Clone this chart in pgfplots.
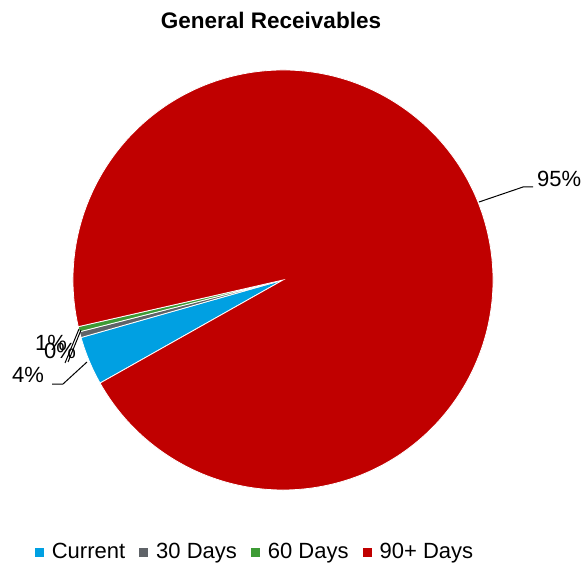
\documentclass[border=0pt]{standalone}
\usepackage{pgfplots}
\usepackage{pgfplotstable}
\pgfplotsset{compat=1.18}
\usepackage{fontspec}
\setmainfont{Liberation Sans}

\definecolor{cCur}{RGB}{0,160,226}
\definecolor{c30}{RGB}{95,99,104}
\definecolor{c60}{RGB}{61,155,53}
\definecolor{c90}{RGB}{192,0,0}

% share of receivables, in percent
\pgfplotstableread{
name value col
Current 3.75 cCur
30Days 0.45 c30
60Days 0.40 c60
90Days 95.40 c90
}\piedata

\begin{document}
\begin{tikzpicture}
\begin{axis}[
  hide axis, scale only axis,
  width=588pt, height=565pt,
  xmin=0, xmax=588, ymin=0, ymax=565,
  clip=false,
  legend columns=4,
  legend style={at={(axis cs:255,13)}, anchor=center, draw=none, fill=none,
    font=\fontsize{22}{24}\selectfont,
    /tikz/every even column/.append style={column sep=12pt}},
  legend image code/.code={\fill[#1, draw=none] (0pt,-4.5pt) rectangle (9pt,4.5pt);
    \path[draw=none, fill=none] (0pt,0pt) -- (15pt,0pt);},
]
% keep the whole frame in the bounding box
\path (axis cs:0,0) rectangle (axis cs:588,565);

\addlegendimage{fill=cCur}\addlegendentry{Current}
\addlegendimage{fill=c30}\addlegendentry{30 Days}
\addlegendimage{fill=c60}\addlegendentry{60 Days}
\addlegendimage{fill=c90}\addlegendentry{90+ Days}

\def\angstart{209.4}
\pgfplotsforeachungrouped \i in {0,1,2,3}{%
  \pgfplotstablegetelem{\i}{value}\of\piedata
  \pgfmathsetmacro{\angend}{\angstart-3.6*\pgfplotsretval}
  \pgfplotstablegetelem{\i}{col}\of\piedata
  \let\slicecol\pgfplotsretval
  \pgfmathsetmacro{\xs}{283+210*cos(\angstart)}
  \pgfmathsetmacro{\ys}{285+210*sin(\angstart)}
  \edef\doslice{\noexpand\fill[\slicecol, draw=white, line width=0.8pt]
    (axis cs:283,285) -- (axis cs:\xs,\ys)
    arc[start angle=\angstart, end angle=\angend, radius=210pt] -- cycle;}
  \doslice
  \global\let\angstart\angend
}

% title and data labels
\node[font=\fontsize{22.5}{25}\selectfont\bfseries, inner sep=0pt] at (axis cs:271,545) {General Receivables};
\draw[black, line width=1pt] (axis cs:479,363) -- (axis cs:523,378) -- (axis cs:533,378);
\node[anchor=west, inner sep=0pt, font=\fontsize{22}{24}\selectfont] at (axis cs:537,386) {95\%};
\draw[black, line width=1pt] (axis cs:52,181) -- (axis cs:63,181) -- (axis cs:87,203);
\node[inner sep=0pt, font=\fontsize{22}{24}\selectfont] at (axis cs:28,190) {4\%};
\draw[black, line width=1pt] (axis cs:65,202) -- (axis cs:79,236);
\draw[black, line width=1pt] (axis cs:68,203) -- (axis cs:81,235);
\node[inner sep=0pt, font=\fontsize{22}{24}\selectfont] at (axis cs:51,222) {1\%};
\node[inner sep=0pt, font=\fontsize{22}{24}\selectfont] at (axis cs:60,214) {0\%};
\end{axis}
\end{tikzpicture}
\end{document}
